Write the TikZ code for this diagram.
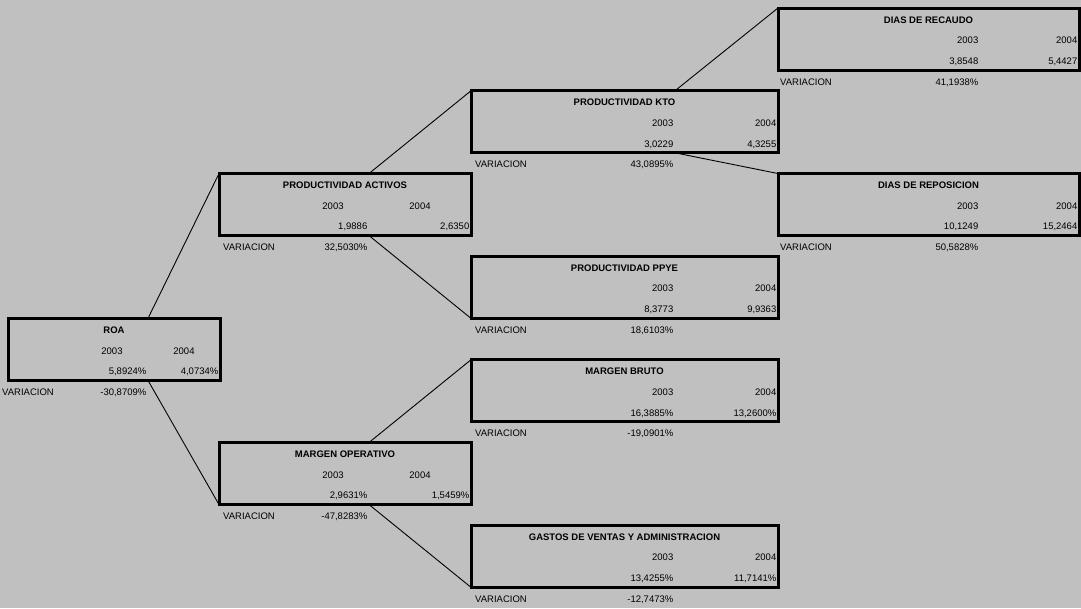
\documentclass[tikz,border=0pt]{standalone}
\usepackage{fontspec}
\setmainfont{Liberation Sans}
\usepackage{tikz}
\usetikzlibrary{fit}
\definecolor{fondo}{RGB}{192,192,192}
% one box: name, left, split, right, row, title, 2003, 2004, variation
\newcommand{\caja}[9]{%
  \pgfmathsetmacro\filay{8+20.69*#5}%
  \node[caja, fit={(#2,\filay) (#4,\filay+62.07)}] (#1) {};
  \coordinate (#1-n) at (#3,\filay);
  \coordinate (#1-s) at (#3,\filay+62.07);
  \node[titulo] (#1-t) at ({(#2+#4)/2},\filay+15) {#6};
  \ifdim\dimexpr#4pt-#2pt\relax>280pt
    \node[cifra] (#1-a) at (#3-1.5,\filay+35.7) {2003};
    \node[cifra] (#1-b) at (#4-1.5,\filay+35.7) {2004};
    \node[etiqueta] (#1-l) at (#3-200,\filay+77.1) {VARIACION};
  \else
    \node[texto] (#1-a) at (#3-36,\filay+35.7) {2003};
    \node[texto] (#1-b) at ({(#3+#4)/2},\filay+35.7) {2004};
    \node[etiqueta] (#1-l) at (#3-146,\filay+77.1) {VARIACION};
  \fi
  \node[cifra] (#1-p) at (#3-1.5,\filay+56.4) {#7};
  \node[cifra] (#1-q) at (#4-1.5,\filay+56.4) {#8};
  \node[cifra] (#1-v) at (#3-1.5,\filay+77.1) {#9};
}

\begin{document}
\begin{tikzpicture}[
  x=1pt, y=-1pt,
  font=\fontsize{9.5}{11}\selectfont,
  caja/.style={draw, line width=3pt, inner sep=0pt, outer sep=0pt},
  titulo/.style={font=\fontsize{9.5}{11}\selectfont\bfseries, anchor=base, inner sep=0pt},
  texto/.style={anchor=base, inner sep=0pt},
  cifra/.style={anchor=base east, inner sep=0pt},
  etiqueta/.style={anchor=base west, inner sep=0pt},
  enlace/.style={line width=0.9pt}
]
\path[use as bounding box, fill=fondo] (0,0) rectangle (1081,608);
\caja{recaudo}{778}{980}{1079}{0}{DIAS DE RECAUDO}{3,8548}{5,4427}{41,1938\%}
\caja{kto}{471}{675}{778}{4}{PRODUCTIVIDAD KTO}{3,0229}{4,3255}{43,0895\%}
\caja{activos}{219}{369}{471}{8}{PRODUCTIVIDAD ACTIVOS}{1,9886}{2,6350}{32,5030\%}
\caja{reposicion}{778}{980}{1079}{8}{DIAS DE REPOSICION}{10,1249}{15,2464}{50,5828\%}
\caja{ppye}{471}{675}{778}{12}{PRODUCTIVIDAD PPYE}{8,3773}{9,9363}{18,6103\%}
\caja{roa}{8}{148}{220}{15}{ROA}{5,8924\%}{4,0734\%}{-30,8709\%}
\caja{bruto}{471}{675}{778}{17}{MARGEN BRUTO}{16,3885\%}{13,2600\%}{-19,0901\%}
\caja{operativo}{219}{369}{471}{21}{MARGEN OPERATIVO}{2,9631\%}{1,5459\%}{-47,8283\%}
\caja{gastos}{471}{675}{778}{25}{GASTOS DE VENTAS Y ADMINISTRACION}{13,4255\%}{11,7141\%}{-12,7473\%}
\draw[enlace] (roa-n) -- (activos.north west);
\draw[enlace] (roa-s) -- (operativo.south west);
\draw[enlace] (activos-n) -- (kto.north west);
\draw[enlace] (activos-s) -- (ppye.south west);
\draw[enlace] (kto-n) -- (recaudo.north west);
\draw[enlace] (kto-s) -- (reposicion.north west);
\draw[enlace] (operativo-n) -- (bruto.north west);
\draw[enlace] (operativo-s) -- (gastos.south west);
\end{tikzpicture}
\end{document}
